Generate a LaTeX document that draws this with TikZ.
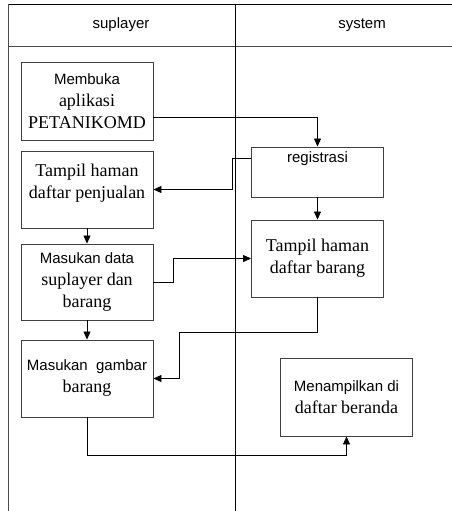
\documentclass[tikz,border=0pt]{standalone}
\usepackage{fontspec}
\setmainfont{Liberation Serif}
\setsansfont{Liberation Sans}
\usepackage{tikz}
\usetikzlibrary{arrows.meta}

\newcommand{\sanstext}[1]{{\fontsize{15}{22}\selectfont\sffamily #1}}

\begin{document}
\begin{tikzpicture}[
    x=1pt, y=-1pt,
    module/.style={rectangle, draw=black!75, line width=0.9pt, minimum width=132pt, minimum height=77pt, align=center, inner sep=2pt, font=\fontsize{18}{22}\selectfont},
    lane/.style={font=\fontsize{15}{18}\selectfont\sffamily},
    flow/.style={-{Triangle[length=8pt, width=7pt]}, line width=0.8pt},
]
\useasboundingbox (0,0) rectangle (452,511);

% Lanes
\draw [line width=0.9pt] (8,4) -- (452,4);
\draw [line width=0.9pt, black!70] (8,46) -- (452,46);
\draw [line width=0.9pt, black!70] (8,4) -- (8,511);
\draw [line width=0.9pt] (235,4) -- (235,511);
\node (supl) [lane] at (121,25) {suplayer};
\node (sys) [lane] at (362,25) {system};

% Suplayer
\node (open) [module, minimum height=78pt] at (87,101) {\sanstext{Membuka}\\aplikasi\\PETANIKOMD};
\node (tampil) [module, text depth=16pt] at (87,189.5) {Tampil haman\\daftar penjualan};
\node (input) [module, minimum height=76pt] at (87,282) {\sanstext{Masukan data}\\suplayer dan\\barang};
\node (gambar) [module] at (87,378.5) {\sanstext{Masukan\ \ gambar}\\barang};

% System
\node (reg) [module, minimum height=50pt, text depth=30pt] at (317.5,172) {\sanstext{registrasi}};
\node (barang) [module] at (317.5,258.5) {Tampil haman\\daftar barang};
\node (beranda) [module, minimum height=78pt] at (346.5,397) {\sanstext{Menampilkan di}\\daftar beranda};

% Bends
\coordinate (bend) at (179,332);
\coordinate (bottom) at (0,455);

% Arrows
\draw [flow] ([yshift=-16pt]open.east) -| (reg.north);
\draw [flow] ([yshift=14pt]reg.west) -- ++(-19,0) |- (tampil.east);
\draw [flow] (tampil) -- (input);
\draw [flow] (reg) -- (barang);
\draw [flow] (input.east) -- ++(20,0) |- (barang.west);
\draw [flow] (input) -- (gambar);
\draw [flow] (barang.south) |- (bend) |- (gambar.east);
\draw [flow] (gambar.south) |- (bottom -| beranda.south) -- (beranda.south);

\end{tikzpicture}
\end{document}
